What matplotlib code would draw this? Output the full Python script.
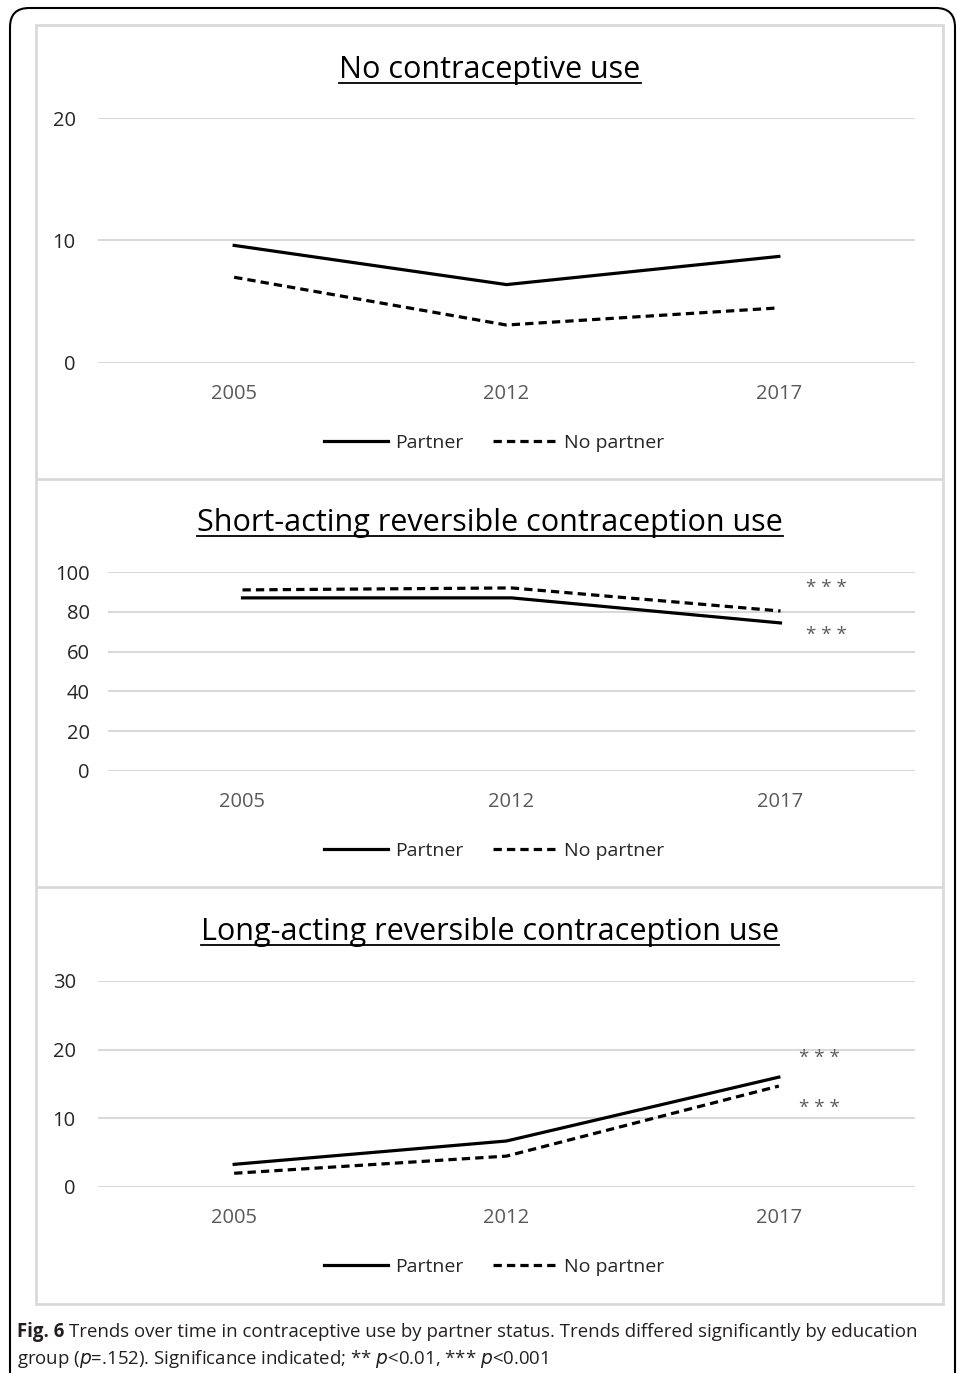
import matplotlib
matplotlib.use("Agg")
import matplotlib.pyplot as plt
from matplotlib.patches import FancyBboxPatch, Rectangle
from matplotlib.lines import Line2D

plt.rcParams['font.family'] = ['Open Sans', 'DejaVu Sans']

years = ['2005', '2012', '2017']

titles = ['No contraceptive use',
          'Short-acting reversible contraception use',
          'Long-acting reversible contraception use']

partner = [[9.6, 6.4, 8.7],
           [87, 87, 74.4],
           [3.3, 6.7, 16.0]]
no_partner = [[7.0, 3.1, 4.5],
              [91, 92, 80.4],
              [2.0, 4.5, 14.7]]

yticks = [[0, 10, 20],
          [0, 20, 40, 60, 80, 100],
          [0, 10, 20, 30]]

# significance stars (x, y) in data units
stars = [[],
         [(2.17, 92), (2.17, 68.5)],
         [(2.15, 18.8), (2.15, 11.5)]]

W, H = 958, 1373
fig = plt.figure(figsize=(W / 100, H / 100), dpi=100)


def fx(px):
    return px / W


def fy(py):
    return 1 - py / H


# outer black frame and inner grey box
frame = FancyBboxPatch((fx(10), fy(1400)), fx(945), fy(8) - fy(1400),
                       boxstyle="round,pad=0,rounding_size=0.02",
                       transform=fig.transFigure, fill=False, lw=1.5,
                       ec='black', mutation_aspect=W / H)
fig.patches.append(frame)
inner = Rectangle((fx(36), fy(1304)), fx(907), fy(25) - fy(1304),
                  transform=fig.transFigure, fill=False, lw=2, ec='#d9d9d9')
fig.patches.append(inner)
for sep in [479, 887]:
    fig.add_artist(Line2D([fx(36), fx(943)], [fy(sep), fy(sep)],
                          transform=fig.transFigure, color='#d9d9d9', lw=2))

# panel geometry in pixels: left, right, y of top tick, y of zero
boxes = [(98, 915, 118, 363),
         (108, 915, 572, 771),
         (98, 915, 981, 1187)]
title_y = [78, 531, 940]
legend_y = [443, 851, 1267]

title_texts = []
for i in range(3):
    l, r, t, b = boxes[i]
    ax = fig.add_axes([fx(l), fy(b), fx(r) - fx(l), fy(t) - fy(b)])
    ax.set_xlim(-0.5, 2.5)
    ax.set_ylim(yticks[i][0], yticks[i][-1])
    for s in ax.spines.values():
        s.set_visible(False)
    ax.set_yticks(yticks[i])
    ax.yaxis.grid(True, color='#d9d9d9', lw=1.5)
    ax.set_axisbelow(True)
    ax.set_xticks(range(3))
    ax.set_xticklabels(years)
    ax.tick_params(axis='both', length=0, labelsize=14.5, colors='#595959')
    ax.tick_params(axis='y', pad=16 if i != 1 else 13, labelcolor='#262626')
    ax.tick_params(axis='x', pad=15)
    ax.plot(range(3), partner[i], color='black', lw=2.3, clip_on=False,
            label='Partner')
    ax.plot(range(3), no_partner[i], color='black', lw=2.3, ls=(0, (2.6, 1.6)),
            clip_on=False, label='No partner')
    for sx, sy in stars[i]:
        ax.text(sx, sy, '* * *', ha='center', va='center', fontsize=13.5,
                color='#595959')
    leg = ax.legend(loc='center', bbox_to_anchor=(fx(494), fy(legend_y[i])),
                    bbox_transform=fig.transFigure, ncol=2, frameon=False,
                    fontsize=14, handlelength=3.3, handletextpad=0.35,
                    columnspacing=1.5)
    for txt in leg.get_texts():
        txt.set_color('#262626')
    tt = fig.text(fx(490), fy(title_y[i]), titles[i], ha='center',
                  va='baseline', fontsize=22, color='black')
    title_texts.append(tt)

# caption
cap_size = 13.4
fig_lbl = fig.text(fx(17), fy(1337), 'Fig. 6', fontsize=cap_size,
                   fontweight='bold', color='#231f20', va='baseline')
fig.canvas.draw()
inv = fig.transFigure.inverted()
lx = inv.transform((fig_lbl.get_window_extent().x1, 0))[0]
fig.text(lx + fx(5), fy(1337),
         'Trends over time in contraceptive use by partner status. Trends '
         'differed significantly by education',
         fontsize=cap_size, color='#231f20', va='baseline')
fig.text(fx(17), fy(1364),
         r'group ($\it{p}$=.152). Significance indicated; ** $\it{p}$<0.01, '
         r'*** $\it{p}$<0.001',
         fontsize=cap_size, color='#231f20', va='baseline')

# underline titles
fig.canvas.draw()
for tt in title_texts:
    bb = tt.get_window_extent()
    x0, _ = inv.transform((bb.x0, 0))
    x1, _ = inv.transform((bb.x1, 0))
    yb = tt.get_position()[1] - 5 / H
    fig.add_artist(Line2D([x0, x1], [yb, yb], transform=fig.transFigure,
                          color='black', lw=1.3))

fig.savefig('out.png', dpi=100)
